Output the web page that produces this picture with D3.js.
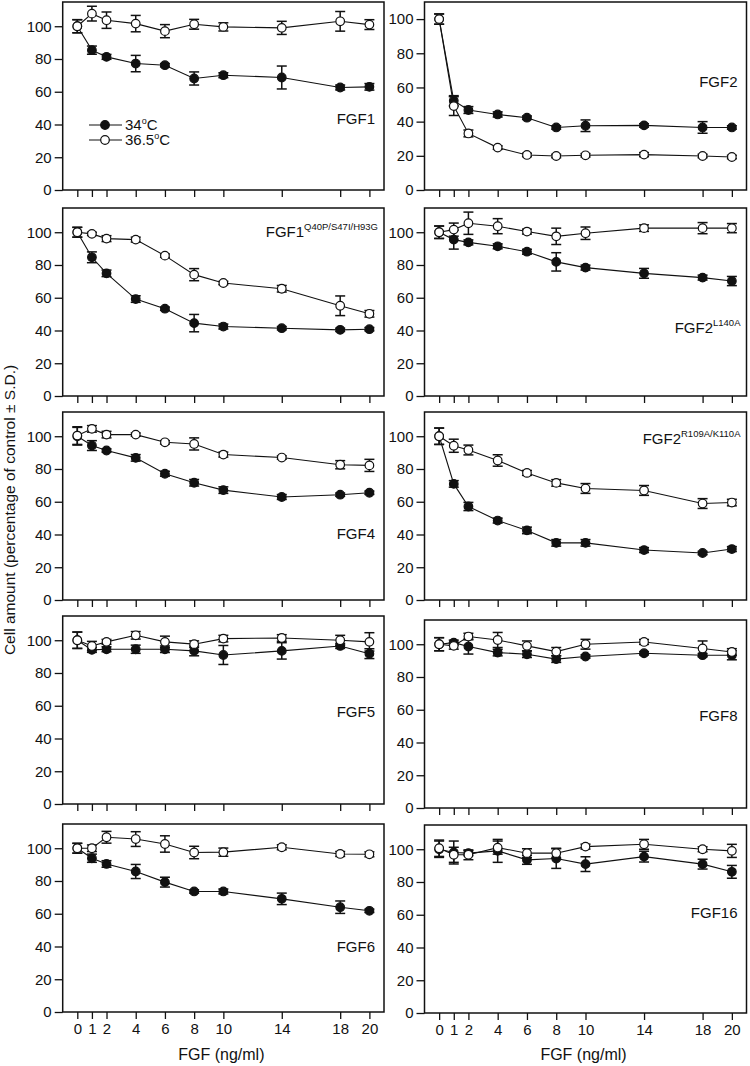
<!DOCTYPE html>
<html>
<head>
<meta charset="utf-8">
<script src="https://cdn.jsdelivr.net/npm/d3@7"></script>
<style>
  body { margin: 0; background: #fff; }
  svg { display: block; }
  text { font-family: Arial, "Liberation Sans", sans-serif; fill: #111; }
</style>
</head>
<body>
<div id="chart"></div>
<script>
// FGF dose (ng/ml)
var doses = [0, 1, 2, 4, 6, 8, 10, 14, 18, 20];
var yTicks = [0, 20, 40, 60, 80, 100];

var panelNames = ["FGF1", "FGF2", "FGF1", "FGF2", "FGF4", "FGF2", "FGF5", "FGF8", "FGF6", "FGF16"];
var panelSupers = ["", "", "Q40P/S47I/H93G", "L140A", "", "R109A/K110A", "", "", "", ""];

// 34 C, filled circles
var mean34 = [
  [100, 85.4, 81.3, 77.2, 76.2, 68.1, 70.1, 68.7, 62.6, 63.0],
  [100, 52.2, 46.8, 44.2, 42.3, 36.6, 37.6, 37.8, 36.6, 36.6],
  [100, 84.7, 74.9, 59.2, 53.3, 44.5, 42.4, 41.4, 40.4, 40.8],
  [100, 95.5, 93.8, 91.4, 88.1, 81.9, 78.4, 74.9, 72.3, 70.2],
  [100, 94.3, 91.3, 86.8, 77.1, 71.6, 67.1, 62.9, 64.3, 65.5],
  [100, 70.9, 57.1, 48.5, 42.5, 34.9, 34.9, 30.5, 28.7, 31.1],
  [100, 94.1, 94.5, 94.5, 94.5, 93.5, 91.0, 93.5, 96.5, 91.8],
  [100, 101.0, 98.6, 94.9, 93.9, 90.9, 92.5, 94.5, 93.3, 93.3],
  [100, 93.9, 90.4, 85.8, 79.3, 73.6, 73.6, 69.1, 64.0, 61.8],
  [100, 98.0, 97.6, 99.0, 93.5, 94.3, 90.9, 95.5, 90.9, 86.2]
];
var sd34 = [
  [4, 2.5, 1.5, 5, 1, 4, 1.5, 7, 1.5, 2],
  [3, 3, 2, 1.5, 1, 1, 3.4, 1, 3.4, 1],
  [3, 3.3, 2, 2, 1, 5.3, 1.5, 1, 1, 1],
  [3.8, 5.8, 1.5, 1.5, 1.5, 5.6, 1.5, 3, 1.5, 2.8],
  [5.4, 3, 1, 2, 1.5, 2, 2, 1.5, 1, 1],
  [5, 2, 2.5, 1.5, 2, 2, 2, 1.5, 1, 1.5],
  [5, 1.5, 1.5, 2.5, 2, 3, 5.8, 5, 1.5, 3],
  [4, 1.5, 4.6, 2, 2, 2, 1, 1, 1, 2.8],
  [3, 2.5, 2, 4.3, 3, 1, 1.5, 3.5, 3.8, 1],
  [5, 7, 1.5, 7, 2.7, 6, 4.5, 3.3, 3, 3.9]
];

// 36.5 C, open circles
var mean365 = [
  [100, 107.7, 103.7, 101.6, 97.0, 101.2, 99.6, 99.0, 103.0, 101.0],
  [100, 49.1, 33.1, 24.8, 20.5, 19.9, 20.3, 20.7, 19.9, 19.3],
  [100, 99.0, 96.1, 95.5, 85.7, 74.1, 69.0, 65.5, 55.1, 50.2],
  [100, 101.6, 105.5, 103.7, 100.4, 97.5, 99.4, 102.5, 102.5, 102.5],
  [100.4, 104.5, 101.0, 101.0, 96.3, 95.3, 88.8, 87.0, 82.6, 82.2],
  [100, 94.2, 91.6, 85.2, 77.6, 71.5, 68.1, 66.9, 58.9, 59.5],
  [100, 96.5, 99.0, 103.0, 99.0, 97.6, 101.0, 101.4, 100.0, 99.0],
  [100, 99.0, 104.7, 102.6, 99.0, 95.5, 100.0, 101.4, 97.4, 95.3],
  [100, 100, 106.7, 105.6, 102.6, 97.4, 97.6, 100.6, 96.5, 96.3],
  [100.6, 96.6, 96.6, 101.0, 97.6, 97.6, 101.6, 103.0, 100.0, 99.0]
];
var sd365 = [
  [4, 4.5, 5, 5, 4, 3, 2.5, 4, 6, 3],
  [3, 5.5, 2, 1, 1, 1, 1, 1.2, 1, 1],
  [3, 1, 1.8, 1.5, 1, 3.7, 1, 2, 6, 2],
  [3.8, 4, 6.8, 4.6, 1.5, 5, 3.8, 2, 3.4, 2.8],
  [5.4, 2, 2, 1, 1, 3.7, 1.5, 1, 2.5, 3.7],
  [5, 4, 3, 3.5, 1.5, 2, 3, 3, 3, 2],
  [5, 2.8, 1.5, 2.3, 3.5, 2, 2, 2, 3, 5.6],
  [4, 2, 2, 4.6, 3, 2.5, 3, 1.5, 4.6, 2],
  [3, 2, 3.6, 4.5, 5, 3.8, 2.5, 1.5, 1.5, 1.5],
  [5, 4.6, 3, 4, 2.7, 3, 1.5, 3, 1.5, 4]
];

// layout
var columns = [{left: 62.7, right: 384}, {left: 424.5, right: 746.5}];
var panelTops = [2, 2, 208, 208, 412, 412, 616, 620, 824, 825];
var panelYMax = [114.8, 110, 114.8, 114.8, 114.8, 114.8, 114.8, 114.8, 114.8, 114.8];
var labelAt = [40, 60, 97, 38.5, 37, 95, 53, 53, 36.6, 58];
var panelHeight = 188;

var svg = d3.select("#chart").append("svg")
    .attr("width", 750)
    .attr("height", 1066);

panelNames.forEach(function(name, p) {
  var col = columns[p % 2];
  var top = panelTops[p];
  var bottom = top + panelHeight;
  var isBottomRow = p >= 8;

  var x = d3.scaleLinear().domain([-1, 21]).range([col.left, col.right]);
  var y = d3.scaleLinear().domain([0, panelYMax[p]]).range([bottom, top]);

  var g = svg.append("g");

  g.append("rect")
    .attr("x", col.left)
    .attr("y", top)
    .attr("width", col.right - col.left)
    .attr("height", panelHeight)
    .attr("fill", "none")
    .attr("stroke", "#111")
    .attr("stroke-width", 1.5);

  var yAxis = d3.axisLeft(y)
    .tickValues(yTicks)
    .tickSize(8)
    .tickPadding(3);
  var ya = g.append("g")
    .attr("transform", "translate(" + col.left + ",0)")
    .call(yAxis);
  ya.select(".domain").remove();
  ya.selectAll("line").attr("stroke", "#111").attr("stroke-width", 1.3);
  ya.selectAll("text")
    .style("font-size", "15px")
    .attr("fill", "#111");

  var xAxis = d3.axisBottom(x)
    .tickValues(doses)
    .tickSize(7)
    .tickPadding(4)
    .tickFormat(isBottomRow ? d3.format("d") : "");
  var xa = g.append("g")
    .attr("transform", "translate(0," + bottom + ")")
    .call(xAxis);
  xa.select(".domain").remove();
  xa.selectAll("line").attr("stroke", "#111").attr("stroke-width", 1.3);
  xa.selectAll("text")
    .style("font-size", "15px")
    .attr("fill", "#111");

  if (isBottomRow) {
    g.append("text")
      .attr("x", (col.left + col.right) / 2 - 2)
      .attr("y", 1060)
      .attr("text-anchor", "middle")
      .style("font-size", "16px")
      .text("FGF (ng/ml)");
  }

  var series = [
    {mean: mean34[p], sd: sd34[p], filled: true},
    {mean: mean365[p], sd: sd365[p], filled: false}
  ];

  series.forEach(function(s) {
    var pts = doses.map(function(d, i) {
      return {dose: d, mean: s.mean[i], sd: s.sd[i]};
    });

    var line = d3.line()
      .x(function(d) { return x(d.dose); })
      .y(function(d) { return y(d.mean); });

    g.append("path")
      .datum(pts)
      .attr("d", line)
      .attr("fill", "none")
      .attr("stroke", "#111")
      .attr("stroke-width", 1.1);

    var err = g.append("g").selectAll("g")
      .data(pts)
      .enter().append("g")
      .attr("stroke", "#111")
      .attr("stroke-width", 1.5);
    err.append("line")
      .attr("x1", function(d) { return x(d.dose); })
      .attr("x2", function(d) { return x(d.dose); })
      .attr("y1", function(d) { return y(d.mean - d.sd); })
      .attr("y2", function(d) { return y(d.mean + d.sd); });
    err.append("line")
      .attr("x1", function(d) { return x(d.dose) - 5; })
      .attr("x2", function(d) { return x(d.dose) + 5; })
      .attr("y1", function(d) { return y(d.mean + d.sd); })
      .attr("y2", function(d) { return y(d.mean + d.sd); });
    err.append("line")
      .attr("x1", function(d) { return x(d.dose) - 5; })
      .attr("x2", function(d) { return x(d.dose) + 5; })
      .attr("y1", function(d) { return y(d.mean - d.sd); })
      .attr("y2", function(d) { return y(d.mean - d.sd); });
  });

  series.forEach(function(s) {
    g.append("g").selectAll("circle")
      .data(s.mean)
      .enter().append("circle")
      .attr("cx", function(d, i) { return x(doses[i]); })
      .attr("cy", function(d) { return y(d); })
      .attr("r", 4.3)
      .attr("fill", s.filled ? "#111" : "#fff")
      .attr("stroke", "#111")
      .attr("stroke-width", 1.2);
  });

  // panel label
  var label = g.append("text")
    .attr("x", col.right - 9)
    .attr("y", y(labelAt[p]))
    .attr("text-anchor", "end")
    .style("font-size", "15px")
    .text(name);
  if (panelSupers[p]) {
    label.attr("x", col.right - 6);
    label.append("tspan")
      .attr("dy", -7)
      .style("font-size", "9.5px")
      .text(panelSupers[p]);
  }
});

// legend in first panel
var legendItems = [
  {text: "34", filled: true, y: 125},
  {text: "36.5", filled: false, y: 140}
];
var legend = svg.append("g");
legendItems.forEach(function(item) {
  legend.append("line")
    .attr("x1", 89).attr("x2", 122)
    .attr("y1", item.y).attr("y2", item.y)
    .attr("stroke", "#111")
    .attr("stroke-width", 1.1);
  legend.append("circle")
    .attr("cx", 105).attr("cy", item.y)
    .attr("r", 4.3)
    .attr("fill", item.filled ? "#111" : "#fff")
    .attr("stroke", "#111")
    .attr("stroke-width", 1.2);
  var t = legend.append("text")
    .attr("x", 125)
    .attr("y", item.y + 5)
    .style("font-size", "15px")
    .text(item.text);
  t.append("tspan").attr("dy", -6).style("font-size", "9px").text("o");
  t.append("tspan").attr("dy", 6).text("C");
});

// shared y axis title
svg.append("text")
  .attr("transform", "translate(15,510) rotate(-90)")
  .attr("text-anchor", "middle")
  .style("font-size", "15.5px")
  .text("Cell amount  (percentage of control \u00b1 S.D.)");
</script>
</body>
</html>
